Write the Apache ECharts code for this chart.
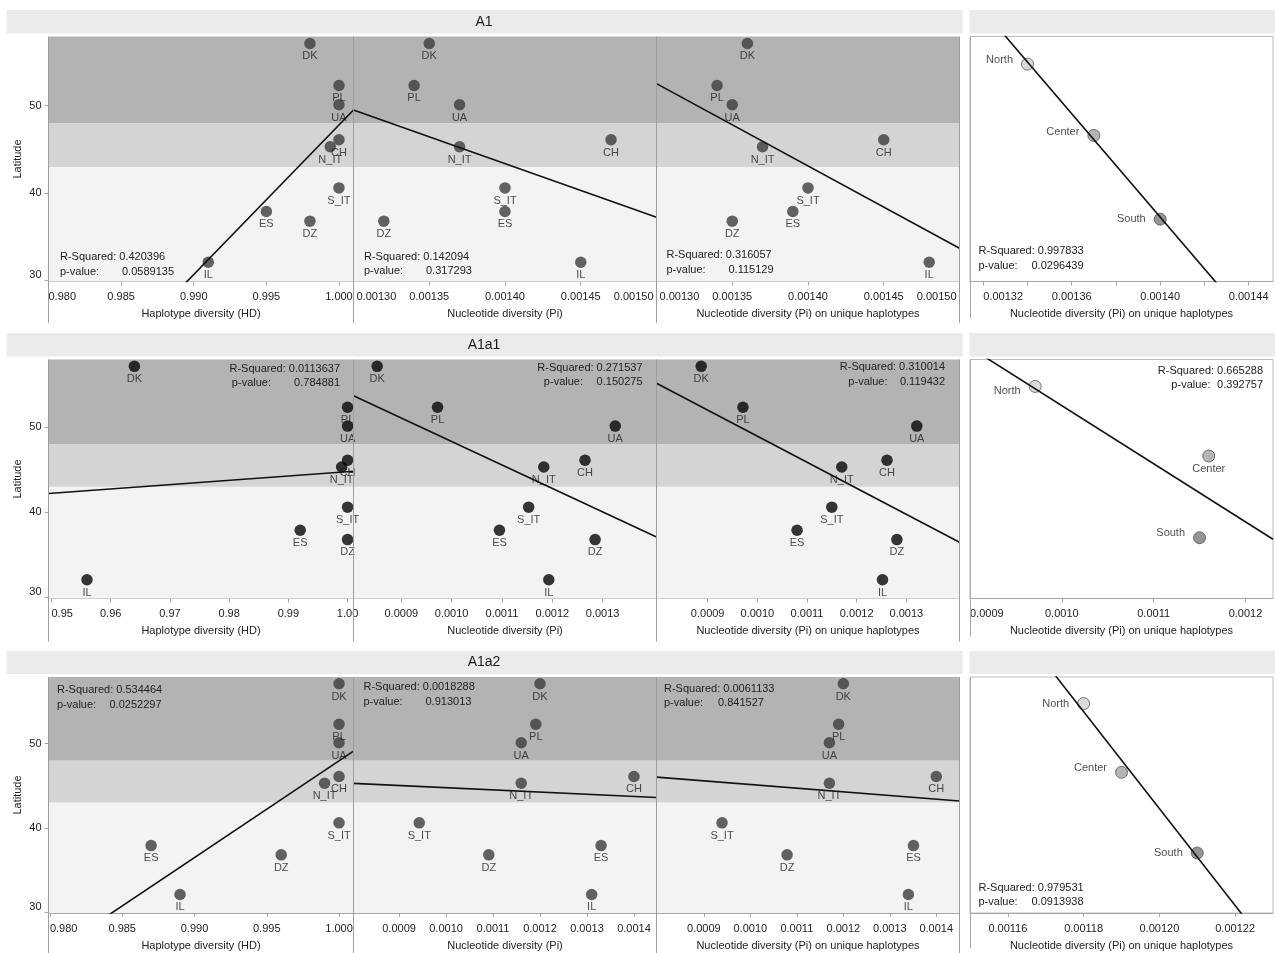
<!DOCTYPE html>
<html>
<head>
<meta charset="utf-8">
<script src="https://cdn.jsdelivr.net/npm/echarts@6/dist/echarts.min.js"></script>
<style>
  html, body { margin: 0; padding: 0; background: #fff; }
  #chart { width: 1275px; height: 953px; }
</style>
</head>
<body>
<div id="chart"></div>
<script>
// ---- data -------------------------------------------------------------
const sites = ['DK', 'PL', 'UA', 'CH', 'N_IT', 'S_IT', 'ES', 'DZ', 'IL'];
const latitude = [57.1, 52.3, 50.1, 46.1, 45.3, 40.6, 37.9, 36.8, 32.1];
const regions = ['North', 'Center', 'South'];
const regionLatitude = [53.2, 45.7, 36.9];
const bandEdges = [43, 48];           // South / Center / North latitude bands

const groupTitles = ['A1', 'A1a1', 'A1a2'];

// A1
const a1HD = [0.998, 1.000, 1.000, 1.000, 0.9994, 1.000, 0.995, 0.998, 0.991];
const a1Pi = [0.00135, 0.00134, 0.00137, 0.00147, 0.00137, 0.00140, 0.00140, 0.00132, 0.00145];
const a1PiUnique = [0.00136, 0.00134, 0.00135, 0.00145, 0.00137, 0.00140, 0.00139, 0.00135, 0.00148];
const a1RegionPiUnique = [0.00134, 0.00137, 0.00140];
const a1RSquared = ['0.420396', '0.142094', '0.316057', '0.997833'];
const a1PValue = ['0.0589135', '0.317293', '0.115129', '0.0296439'];

// A1a1
const a1a1HD = [0.964, 1.000, 1.000, 1.000, 0.999, 1.000, 0.992, 1.000, 0.956];
const a1a1Pi = [0.000852, 0.000972, 0.001325, 0.001265, 0.001183, 0.001153, 0.001095, 0.001285, 0.001193];
const a1a1PiUnique = [0.000887, 0.000971, 0.001321, 0.001261, 0.001170, 0.001150, 0.001080, 0.001281, 0.001252];
const a1a1RegionPiUnique = [0.000971, 0.00116, 0.00115];
const a1a1RSquared = ['0.0113637', '0.271537', '0.310014', '0.665288'];
const a1a1PValue = ['0.784881', '0.150275', '0.119432', '0.392757'];

// A1a2
const a1a2HD = [1.000, 1.000, 1.000, 1.000, 0.999, 1.000, 0.987, 0.996, 0.989];
const a1a2Pi = [0.00120, 0.001191, 0.00116, 0.00140, 0.00116, 0.000943, 0.00133, 0.001091, 0.00131];
const a1a2PiUnique = [0.00120, 0.00119, 0.00117, 0.00140, 0.00117, 0.000939, 0.001351, 0.001079, 0.00134];
const a1a2RegionPiUnique = [0.00118, 0.00119, 0.00121];
const a1a2RSquared = ['0.534464', '0.0018288', '0.0061133', '0.979531'];
const a1a2PValue = ['0.0252297', '0.913013', '0.841527', '0.0913938'];

// tick labels
const latitudeTicks = [30, 40, 50];
const hdTicksA1 = [0.980, 0.985, 0.990, 0.995, 1.000];
const hdTicksA1a1 = [0.95, 0.96, 0.97, 0.98, 0.99, 1.00];
const hdTicksA1a2 = [0.980, 0.985, 0.990, 0.995, 1.000];
const piTicksA1 = [0.00130, 0.00135, 0.00140, 0.00145, 0.00150];
const piTicksA1a1 = [0.0009, 0.0010, 0.0011, 0.0012, 0.0013];
const piTicksA1a2 = [0.0009, 0.0010, 0.0011, 0.0012, 0.0013, 0.0014];
const regionTicksA1 = [0.00132, 0.00136, 0.00140, 0.00144];
const regionMinorTicksA1 = [0.00132, 0.00134, 0.00136, 0.00138, 0.00140, 0.00142, 0.00144];
const regionTicksA1a1 = [0.0009, 0.0010, 0.0011, 0.0012];
const regionTicksA1a2 = [0.00116, 0.00118, 0.00120, 0.00122];

const xTitles = ['Haplotype diversity (HD)', 'Nucleotide diversity (Pi)',
  'Nucleotide diversity (Pi) on unique haplotypes', 'Nucleotide diversity (Pi) on unique haplotypes'];

// ---- layout & style ---------------------------------------------------
const FONT = '"Liberation Sans", Arial, Helvetica, sans-serif';
const colX = [[48.5, 353.5], [353.5, 656.5], [656.5, 959.5], [970, 1273]];
const rowY = [[36.5, 281.5], [359.5, 598.5], [677, 913]];
const headerY = [[10, 33.5], [333, 356.5], [651, 674]];
const sectionBottom = [323, 641.5, 953];
const latRange = [29.9, 57.9];
const regionLatRange = [30.35, 56.1];
const bandColors = ['#f3f3f3', '#d4d4d4', '#b3b3b3'];
const dotColors = ['#3c3c3c', '#050505', '#3c3c3c'];
const regionColors = ['#d2d2d2', '#a2a2a2', '#7b7b7b'];
const axisGray = '#a6a6a6';

// x-axis scale setup per row / column
const xSetup = [
  [
    { min: 0.980, max: 1.001, labels: hdTicksA1, dec: 3, alignMin: 'left' },
    { min: 0.00130, max: 0.00150, labels: piTicksA1, dec: 5, alignMin: 'left', alignMax: 'right', pad: [0, 3, 0, 3] },
    { min: 0.00130, max: 0.00150, labels: piTicksA1, dec: 5, alignMin: 'left', alignMax: 'right', pad: [0, 3, 0, 3] },
    { min: 0.001314, max: 0.001451, labels: regionTicksA1, ticks: regionMinorTicksA1, dec: 5, alignMin: 'left' }
  ],
  [
    { min: 0.9495, max: 1.001, labels: hdTicksA1a1, dec: 2, alignMin: 'left' },
    { min: 0.000805, max: 0.001407, labels: piTicksA1a1, dec: 4 },
    { min: 0.000797, max: 0.001407, labels: piTicksA1a1, dec: 4 },
    { min: 0.0009, max: 0.00123, labels: regionTicksA1a1, dec: 4, alignMin: 'left' }
  ],
  [
    { min: 0.9799, max: 1.001, labels: hdTicksA1a2, dec: 3, alignMin: 'left' },
    { min: 0.000803, max: 0.001448, labels: piTicksA1a2, dec: 4 },
    { min: 0.000798, max: 0.00145, labels: piTicksA1a2, dec: 4 },
    { min: 0.00115, max: 0.00123, labels: regionTicksA1a2, dec: 5 }
  ]
];

// statistics text blocks: anchor, alignment, offset of the p-value column
const statLayout = [
  [{ x: 60, y: 257, align: 'left', off: 62 }, { x: 364, y: 256.5, align: 'left', off: 62 },
   { x: 666.5, y: 255, align: 'left', off: 62 }, { x: 978.5, y: 251, align: 'left', off: 53 }],
  [{ x: 340, y: 368.5, align: 'right', off: 69 }, { x: 642.5, y: 367.5, align: 'right', off: 59.5 },
   { x: 945, y: 367, align: 'right', off: 57.5 }, { x: 1263, y: 370.5, align: 'right', off: 52.5 }],
  [{ x: 57, y: 690, align: 'left', off: 52.5 }, { x: 363.5, y: 687, align: 'left', off: 62 },
   { x: 664, y: 688.5, align: 'left', off: 54 }, { x: 978.5, y: 887.5, align: 'left', off: 53 }]
];

// region label placement per row (left of the dot unless noted)
const regionLabelPlace = [
  [{ pos: 'left', dy: -4 }, { pos: 'left', dy: -3 }, { pos: 'left', dy: 0 }],
  [{ pos: 'left', dy: 5 }, { pos: 'bottom', dy: 0 }, { pos: 'left', dy: -5 }],
  [{ pos: 'left', dy: 0 }, { pos: 'left', dy: -4 }, { pos: 'left', dy: 0 }]
];

const rowData = [
  { cols: [a1HD, a1Pi, a1PiUnique], region: a1RegionPiUnique, r2: a1RSquared, p: a1PValue },
  { cols: [a1a1HD, a1a1Pi, a1a1PiUnique], region: a1a1RegionPiUnique, r2: a1a1RSquared, p: a1a1PValue },
  { cols: [a1a2HD, a1a2Pi, a1a2PiUnique], region: a1a2RegionPiUnique, r2: a1a2RSquared, p: a1a2PValue }
];

// ordinary least squares fit of latitude on diversity
function fitLine(xs, ys) {
  const n = xs.length;
  const mx = xs.reduce((a, b) => a + b, 0) / n;
  const my = ys.reduce((a, b) => a + b, 0) / n;
  let sxy = 0, sxx = 0;
  for (let i = 0; i < n; i++) {
    sxy += (xs[i] - mx) * (ys[i] - my);
    sxx += (xs[i] - mx) * (xs[i] - mx);
  }
  const slope = sxy / sxx;
  return { slope, intercept: my - slope * mx };
}

// ---- build option -----------------------------------------------------
const grids = [], xAxes = [], yAxes = [], series = [], graphics = [];
const textStyle = { fontFamily: FONT, fontSize: 11, color: '#222' };

for (let r = 0; r < 3; r++) {
  // header strips
  graphics.push({ type: 'rect', silent: true, shape: { x: 6.5, y: headerY[r][0], width: 956, height: headerY[r][1] - headerY[r][0] },
    style: { fill: '#ebebed' } });
  graphics.push({ type: 'rect', silent: true, shape: { x: 969.5, y: headerY[r][0], width: 305.5, height: headerY[r][1] - headerY[r][0] },
    style: { fill: '#ebebed' } });
  graphics.push({ type: 'text', silent: true, x: 484, y: (headerY[r][0] + headerY[r][1]) / 2,
    style: { text: groupTitles[r], font: '14px ' + FONT, fill: '#1a1a1a', textAlign: 'center', textVerticalAlign: 'middle' } });

  for (let c = 0; c < 4; c++) {
    const idx = r * 4 + c;
    const isRegion = c === 3;
    const xs = xSetup[r][c];
    const yr = isRegion ? regionLatRange : latRange;

    grids.push({
      left: colX[c][0], top: rowY[r][0],
      width: colX[c][1] - colX[c][0], height: rowY[r][1] - rowY[r][0],
      show: isRegion, borderColor: '#bcbcbc', borderWidth: 1, backgroundColor: '#ffffff'
    });

    xAxes.push({
      type: 'value', gridIndex: idx, min: xs.min, max: xs.max,
      name: xTitles[c], nameLocation: 'middle', nameGap: 27,
      nameTextStyle: textStyle,
      axisLine: { show: true, onZero: false, lineStyle: { color: axisGray, width: 1 } },
      axisTick: { show: true, length: 4, lineStyle: { color: axisGray }, customValues: xs.ticks || xs.labels },
      axisLabel: Object.assign({}, textStyle, {
        margin: 10, customValues: xs.labels, hideOverlap: false,
        padding: xs.pad || 0,
        formatter: v => Number(v).toFixed(xs.dec),
        alignMinLabel: xs.alignMin || 'center', alignMaxLabel: xs.alignMax || 'center'
      }),
      splitLine: { show: false }
    });

    yAxes.push({
      type: 'value', gridIndex: idx, min: yr[0], max: yr[1],
      name: c === 0 ? 'Latitude' : '', nameLocation: 'middle', nameGap: 25, nameRotate: 90,
      nameTextStyle: textStyle,
      axisLine: { show: false },
      axisTick: { show: c === 0, length: 4, lineStyle: { color: axisGray }, customValues: latitudeTicks },
      axisLabel: Object.assign({}, textStyle, {
        show: c === 0, margin: 7, customValues: latitudeTicks, verticalAlignMinLabel: 'bottom'
      }),
      splitLine: { show: false }
    });

    let xVals, yVals;
    if (!isRegion) {
      xVals = rowData[r].cols[c];
      yVals = latitude;
      // latitude bands
      series.push({
        type: 'scatter', xAxisIndex: idx, yAxisIndex: idx, data: [], silent: true, z: 1,
        markArea: {
          silent: true,
          data: [
            [{ yAxis: yr[0], itemStyle: { color: bandColors[0] } }, { yAxis: bandEdges[0] }],
            [{ yAxis: bandEdges[0], itemStyle: { color: bandColors[1] } }, { yAxis: bandEdges[1] }],
            [{ yAxis: bandEdges[1], itemStyle: { color: bandColors[2] } }, { yAxis: yr[1] }]
          ]
        }
      });
      series.push({
        type: 'scatter', xAxisIndex: idx, yAxisIndex: idx, z: 3, silent: true,
        symbolSize: 11.5, itemStyle: { color: dotColors[r] },
        data: sites.map((s, i) => ({ name: s, value: [xVals[i], yVals[i]] })),
        label: Object.assign({ show: true, position: 'bottom', distance: 1.5, formatter: '{b}' }, textStyle)
      });
    } else {
      xVals = rowData[r].region;
      yVals = regionLatitude;
      series.push({
        type: 'scatter', xAxisIndex: idx, yAxisIndex: idx, z: 3, silent: true,
        symbolSize: 12,
        data: regions.map((s, i) => ({
          name: s, value: [xVals[i], yVals[i]],
          itemStyle: { color: regionColors[i], borderColor: '#555', borderWidth: 1 },
          label: Object.assign({
            show: true, formatter: '{b}', position: regionLabelPlace[r][i].pos,
            distance: regionLabelPlace[r][i].pos === 'left' ? 8 : 1,
            offset: [0, regionLabelPlace[r][i].dy]
          }, textStyle)
        }))
      });
    }

    // regression line across the visible x range
    const fit = fitLine(xVals, yVals);
    series.push({
      type: 'line', xAxisIndex: idx, yAxisIndex: idx, z: 4, silent: true, clip: true,
      symbol: 'none', lineStyle: { color: '#111', width: 1.6 },
      data: [[xs.min, fit.intercept + fit.slope * xs.min], [xs.max, fit.intercept + fit.slope * xs.max]]
    });

    // statistics text
    const st = statLayout[r][c];
    const font = '11px ' + FONT;
    if (st.align === 'left') {
      graphics.push({ type: 'text', silent: true, z: 10, x: st.x, y: st.y,
        style: { text: 'R-Squared: ' + rowData[r].r2[c], font, fill: '#222', textAlign: 'left', textVerticalAlign: 'middle' } });
      graphics.push({ type: 'text', silent: true, z: 10, x: st.x, y: st.y + 14.5,
        style: { text: 'p-value:', font, fill: '#222', textAlign: 'left', textVerticalAlign: 'middle' } });
      graphics.push({ type: 'text', silent: true, z: 10, x: st.x + st.off, y: st.y + 14.5,
        style: { text: rowData[r].p[c], font, fill: '#222', textAlign: 'left', textVerticalAlign: 'middle' } });
    } else {
      graphics.push({ type: 'text', silent: true, z: 10, x: st.x, y: st.y,
        style: { text: 'R-Squared: ' + rowData[r].r2[c], font, fill: '#222', textAlign: 'right', textVerticalAlign: 'middle' } });
      graphics.push({ type: 'text', silent: true, z: 10, x: st.x - st.off, y: st.y + 14.5,
        style: { text: 'p-value:', font, fill: '#222', textAlign: 'right', textVerticalAlign: 'middle' } });
      graphics.push({ type: 'text', silent: true, z: 10, x: st.x, y: st.y + 14.5,
        style: { text: rowData[r].p[c], font, fill: '#222', textAlign: 'right', textVerticalAlign: 'middle' } });
    }
  }

  // panel separators
  [48.5, 353.5, 656.5, 959.5].forEach(x => {
    graphics.push({ type: 'line', silent: true, z: 9,
      shape: { x1: x, y1: rowY[r][0], x2: x, y2: sectionBottom[r] },
      style: { stroke: '#9e9e9e', lineWidth: 1 } });
  });
  graphics.push({ type: 'line', silent: true, z: 9,
    shape: { x1: 970.5, y1: rowY[r][0], x2: 970.5, y2: sectionBottom[r] - 5 },
    style: { stroke: '#a8a8a8', lineWidth: 1 } });
}

const chart = echarts.init(document.getElementById('chart'), null, { renderer: 'canvas' });
chart.setOption({
  animation: false,
  backgroundColor: '#ffffff',
  grid: grids,
  xAxis: xAxes,
  yAxis: yAxes,
  series: series,
  graphic: { elements: graphics }
});
</script>
</body>
</html>
